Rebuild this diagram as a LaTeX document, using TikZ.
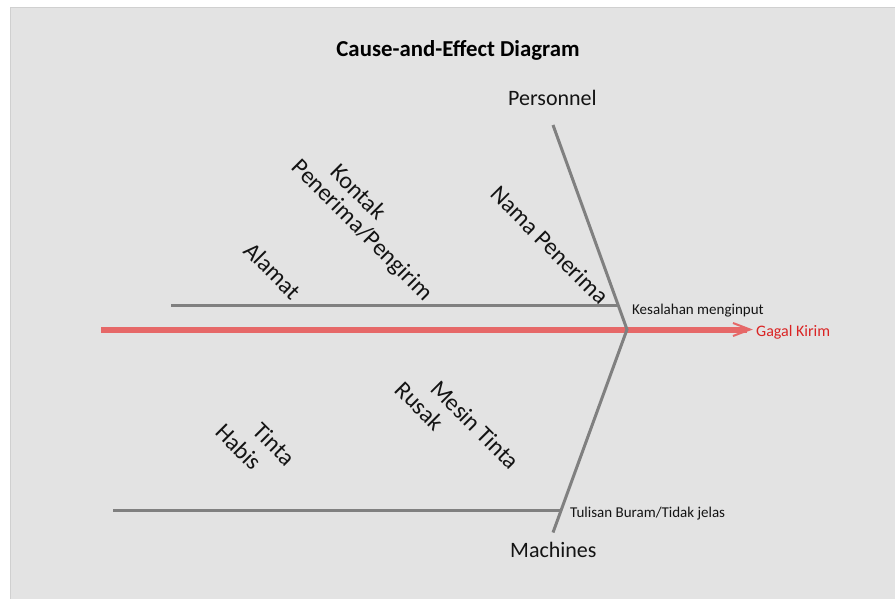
\documentclass[tikz,border=0pt]{standalone}
\usepackage{fontspec}
\setmainfont{Carlito}
\usetikzlibrary{calc}
\definecolor{panel}{RGB}{227,227,227}
\definecolor{panelrule}{RGB}{208,208,208}
\definecolor{bone}{RGB}{128,128,128}
\definecolor{spine}{RGB}{230,104,104}
\definecolor{effectred}{RGB}{218,36,36}
\definecolor{ink}{RGB}{20,20,20}
\tikzset{
  bonestyle/.style={draw=bone, line width=3pt, line cap=butt},
  spinestyle/.style={draw=spine, line width=6pt, line cap=butt},
  tipstyle/.style={draw=spine, line width=2pt, line join=miter},
  cause/.style={inner sep=0pt, rotate=-45, anchor=center, text=ink,
                font=\fontsize{24}{28}\selectfont},
  category/.style={inner sep=0pt, anchor=base west, text=ink,
                   font=\fontsize{22}{26}\selectfont},
  subcause/.style={inner sep=0pt, anchor=base west, text=ink,
                   font=\fontsize{15}{18}\selectfont},
}
\begin{document}
\begin{tikzpicture}[x=1pt,y=-1pt]
  % page and chart panel
  \useasboundingbox (0,0) rectangle (895,599);
  \fill[white] (0,0) rectangle (895,599);
  \fill[panel] (10,7) rectangle (895,599);
  \draw[panelrule, line width=1pt] (10.5,599) -- (10.5,7.5) -- (895,7.5);

  % title
  \node[inner sep=0pt, anchor=base, font=\bfseries\fontsize{22.8}{27}\selectfont, text=black]
    (title) at (458,57) {Cause-and-Effect Diagram};

  % key points of the skeleton
  \coordinate (tail) at (101,329.5);
  \coordinate (head) at (627,329.5);
  \coordinate (tip)  at (750,329.5);
  \coordinate (ptop) at (553,125);
  \coordinate (mbot) at (553,532.5);
  \coordinate (b1s)  at (171,305.5);
  \coordinate (b1e)  at (618.3,305.5);
  \coordinate (b2s)  at (113,510.7);
  \coordinate (b2e)  at (560.9,510.7);
  \coordinate (tipA) at (733,323);
  \coordinate (tipB) at (733,336);

  % spine with open arrow head
  \draw[spinestyle] (tail) -- (747,329.5);
  \draw[tipstyle] (tipA) -- (tip) -- (tipB);

  % category bones and their branches
  \draw[bonestyle] (ptop) -- (head) -- (mbot);
  \draw[bonestyle] (b1s) -- (b1e);
  \draw[bonestyle] (b2s) -- (b2e);

  % effect and categories
  \node[inner sep=0pt, anchor=base west, text=effectred, font=\fontsize{16}{19}\selectfont]
    (effect) at (756,336) {Gagal Kirim};
  \node[category] (personnel) at (508,106) {Personnel};
  \node[category] (machines)  at (510,557) {Machines};

  % branch labels
  \node[subcause] (input)  at (632,314)   {Kesalahan menginput};
  \node[subcause] (tulis)  at (570,517.7) {Tulisan Buram/Tidak jelas};

  % causes under Personnel
  \node[cause] (nama)    at (550,245)     {Nama Penerima};
  \node[cause] (kontak1) at (358.8,191.7) {Kontak};
  \node[cause] (kontak2) at (361.7,230.8) {Penerima/Pengirim};
  \node[cause] (alamat)  at (272.8,270.8) {Alamat};

  % causes under Machines
  \node[cause] (mesin1) at (475.5,424.8) {Mesin Tinta};
  \node[cause] (mesin2) at (420,405.8)   {Rusak};
  \node[cause] (tinta1) at (274.2,444.2) {Tinta};
  \node[cause] (tinta2) at (239.2,446.7) {Habis};
\end{tikzpicture}
\end{document}
